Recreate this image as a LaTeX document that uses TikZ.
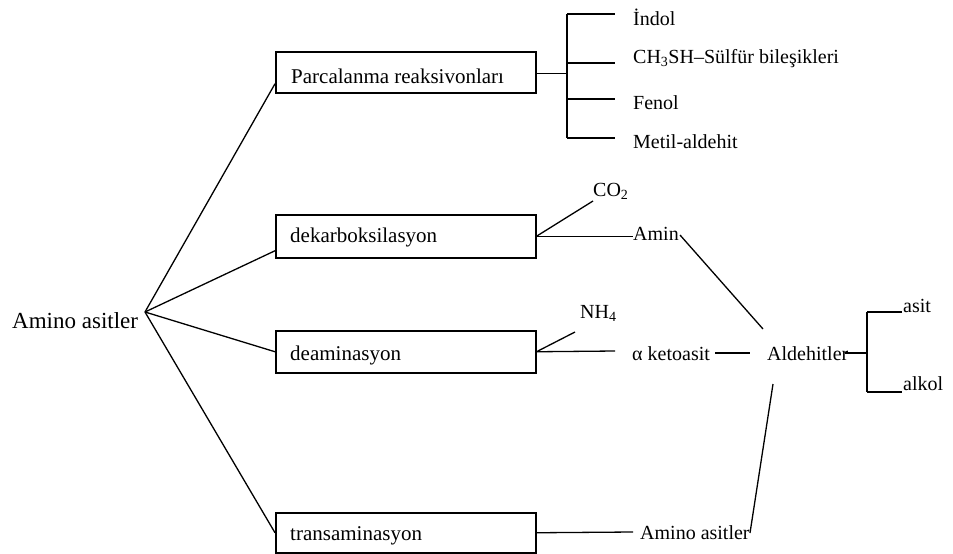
\documentclass[tikz,border=0pt]{standalone}
\usepackage{fontspec}
\setmainfont{Liberation Serif}
\begin{document}
\begin{tikzpicture}[x=1pt,y=-1pt,
  conn/.style={line width=1.3pt,black},
  boxst/.style={draw,line width=1.5pt,minimum width=260pt,anchor=north west,inner sep=0pt},
  txt/.style={anchor=base west,inner sep=0pt,font=\fontsize{20}{24}\selectfont},
  boxtxt/.style={anchor=base west,inner sep=0pt,font=\fontsize{21}{25}\selectfont},
  bigtxt/.style={anchor=base west,inner sep=0pt,font=\fontsize{23}{27}\selectfont}]
\useasboundingbox (0,0) rectangle (953,554);
% left root
\node[bigtxt] (root) at (12,328) {Amino asitler};
\coordinate (hub) at (145,312);
% boxes
\node[boxst,minimum height=41pt] (b1) at (275,51) {};
\node[boxtxt] (t1) at (291,83) {Parcalanma reaksivonları};
\node[boxst,minimum height=43pt] (b2) at (275,214) {};
\node[boxtxt] (t2) at (290,242) {dekarboksilasyon};
\node[boxst,minimum height=42pt] (b3) at (275,330) {};
\node[boxtxt] (t3) at (290,360) {deaminasyon};
\node[boxst,minimum height=40pt] (b4) at (275,512) {};
\node[boxtxt] (t4) at (290,540) {transaminasyon};
% hub connectors
\draw[conn] (hub) -- ([yshift=-11.5pt]b1.west);
\draw[conn] (hub) -- ([yshift=-14.5pt]b2.west);
\draw[conn] (hub) -- (b3.west);
\draw[conn] (hub) -- (b4.west);
% Parcalanma bracket
\node[txt] (p1) at (633,25) {İndol};
\node[txt] (p2) at (633,63) {CH\textsubscript{3}SH–Sülfür bileşikleri};
\node[txt] (p3) at (633,109) {Fenol};
\node[txt] (p4) at (633,148) {Metil-aldehit};
\coordinate (brtop) at (567,14);
\coordinate (brbot) at (567,138);
\coordinate (tk1) at (615,14);
\coordinate (tk2) at (615,63);
\coordinate (tk3) at (615,99);
\coordinate (tk4) at (615,138);
\draw[conn] ([yshift=-1.5pt]b1.east) -- ([yshift=-1.5pt]b1.east -| brtop);
\draw[conn] (brtop) -- (brbot);
\draw[conn] (brtop) -- (tk1);
\draw[conn] (tk2 -| brtop) -- (tk2);
\draw[conn] (tk3 -| brtop) -- (tk3);
\draw[conn] (brbot) -- (tk4);
% dekarboksilasyon
\node[txt] (co2) at (593,196) {CO\textsubscript{2}};
\node[txt] (amin) at (633,240) {Amin};
\coordinate (co2end) at (593,201);
\draw[conn] (b2.east) -- (co2end);
\draw[conn] (b2.east) -- (b2.east -| amin.west);
% deaminasyon
\node[txt] (nh4) at (580,318) {NH\textsubscript{4}};
\node[txt] (keto) at (632,360) {α ketoasit};
\coordinate (nh4end) at (575,332);
\coordinate (b3end) at (615,351);
\draw[conn] (b3.east) -- (nh4end);
\draw[conn] (b3.east) -- (b3end);
% Aldehitler
\node[txt] (ald) at (767,360) {Aldehitler};
\coordinate (k1) at (715,353);
\coordinate (k2) at (750,353);
\draw[conn] (k1) -- (k2);
\coordinate (am1) at (680,235);
\coordinate (am2) at (763,329);
\draw[conn] (am1) -- (am2);
% aldehitler bracket
\node[txt] (asit) at (903,312) {asit};
\node[txt] (alkol) at (903,390) {alkol};
\coordinate (ab) at (867,353);
\coordinate (abtop) at (867,312);
\coordinate (abbot) at (867,392);
\draw[conn] (845,353) -- (ab);
\draw[conn] (abtop) -- (abbot);
\draw[conn] (abtop) -- (902,312);
\draw[conn] (abbot) -- (902,392);
% transaminasyon
\node[txt] (am2txt) at (640,539) {Amino asitler};
\coordinate (tr1) at (633,532);
\draw[conn] (b4.east) -- (tr1);
\coordinate (al1) at (773,384);
\coordinate (al2) at (750,533);
\draw[conn] (al1) -- (al2);
\end{tikzpicture}
\end{document}
